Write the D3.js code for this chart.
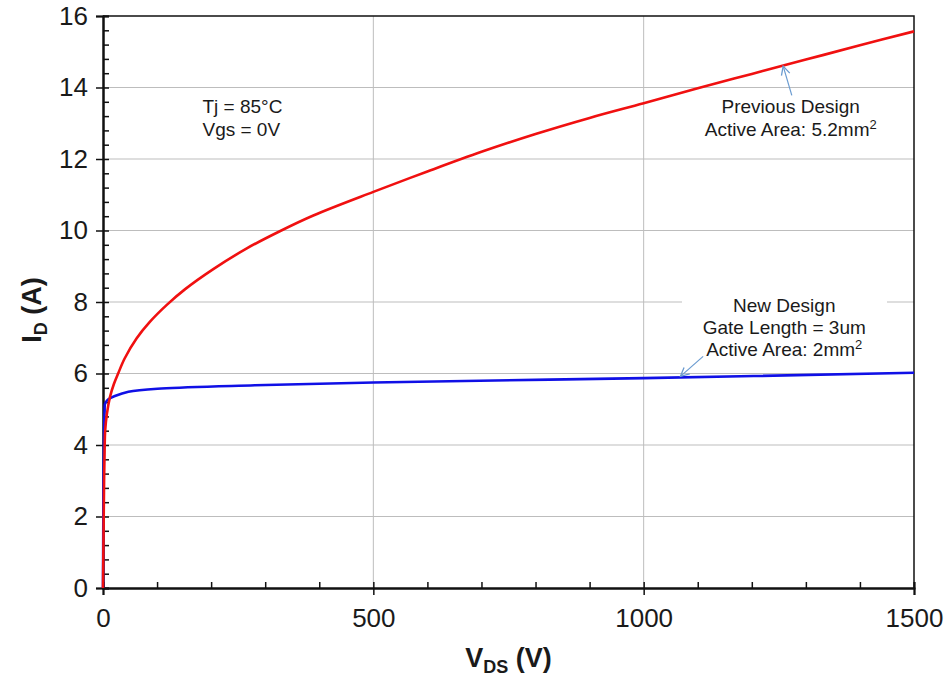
<!DOCTYPE html>
<html>
<head>
<meta charset="utf-8">
<script src="https://cdn.jsdelivr.net/npm/d3@7"></script>
<style>
  body { margin: 0; background: #fff; }
  text { font-family: Arial, "Liberation Sans", sans-serif; fill: #1a1a1a; }
</style>
</head>
<body>
<script>
const W = 949, H = 677;
const M = { left: 103, right: 35, top: 16, bottom: 89 };

// V_DS (V), I_D (A)
const prevV = [0, 1, 2, 3, 4, 7, 13, 20, 28, 40, 62, 87, 118, 152, 204, 266, 327, 389, 500, 600, 700, 800, 900, 1000, 1100, 1200, 1300, 1400, 1500];
const prevI = [0, 1.5, 3.0, 3.9, 4.4, 4.85, 5.35, 5.7, 6.0, 6.42, 6.98, 7.45, 7.92, 8.36, 8.92, 9.5, 9.98, 10.42, 11.08, 11.65, 12.2, 12.7, 13.15, 13.56, 13.98, 14.38, 14.78, 15.18, 15.57];
const newV = [0, 1, 2, 3, 4, 10, 22, 47, 108, 281, 500, 1000, 1500];
const newI = [0, 3.0, 4.4, 4.95, 5.17, 5.28, 5.37, 5.49, 5.58, 5.67, 5.75, 5.87, 6.02];

const xTicks = [0, 500, 1000, 1500];
const yTicks = [0, 2, 4, 6, 8, 10, 12, 14, 16];

const svg = d3.select('body').append('svg')
    .attr('width', W)
    .attr('height', H);

const x = d3.scaleLinear().domain([0, 1500]).range([M.left, W - M.right]);
const y = d3.scaleLinear().domain([0, 16]).range([H - M.bottom, M.top]);

// grid
svg.append('g').selectAll('line').data(yTicks.slice(1, -1)).join('line')
    .attr('x1', x(0)).attr('x2', x(1500))
    .attr('y1', d => y(d)).attr('y2', d => y(d))
    .attr('stroke', '#bdbdbd').attr('stroke-width', 1);
svg.append('g').selectAll('line').data(xTicks.slice(1, -1)).join('line')
    .attr('y1', y(0)).attr('y2', y(16))
    .attr('x1', d => x(d)).attr('x2', d => x(d))
    .attr('stroke', '#bdbdbd').attr('stroke-width', 1);

// frame top + right
svg.append('path')
    .attr('d', `M${x(0)},${y(16)}H${x(1500)}V${y(0)}`)
    .attr('fill', 'none').attr('stroke', '#111').attr('stroke-width', 1.5);

// axes
const xAxis = svg.append('g').attr('transform', `translate(0,${y(0)})`)
    .call(d3.axisBottom(x).tickValues(xTicks).tickSize(7).tickPadding(10).tickFormat(d3.format('d')));
const xMinor = svg.append('g').attr('transform', `translate(0,${y(0)})`)
    .call(d3.axisTop(x).tickValues(d3.range(0, 1501, 100)).tickSize(6).tickFormat(''));
const yAxis = svg.append('g').attr('transform', `translate(${x(0)},0)`)
    .call(d3.axisLeft(y).tickValues(yTicks).tickSize(7).tickPadding(8));
const yMinor = svg.append('g').attr('transform', `translate(${x(0)},0)`)
    .call(d3.axisRight(y).tickValues(d3.range(0, 16.01, 0.4)).tickSize(6).tickFormat(''));

[xAxis, xMinor, yAxis, yMinor].forEach(g => {
  g.selectAll('path').attr('stroke', '#111').attr('stroke-width', 2);
  g.selectAll('line').attr('stroke', '#111').attr('stroke-width', 1.5);
  g.selectAll('text').attr('font-size', 26).attr('fill', '#1a1a1a')
    .style('font-family', 'Arial, "Liberation Sans", sans-serif');
});
xAxis.selectAll('text').attr('dy', '0.85em');

// axis titles
const xt = svg.append('text')
    .attr('x', (x(0) + x(1500)) / 2).attr('y', 667)
    .attr('text-anchor', 'middle').attr('font-size', 27).attr('font-weight', 'bold');
xt.append('tspan').text('V');
xt.append('tspan').text('DS').attr('font-size', 18).attr('dy', 6);
xt.append('tspan').text(' (V)').attr('dy', -6);

const yt = svg.append('text')
    .attr('transform', `translate(41,${(y(0) + y(16)) / 2 + 8}) rotate(-90)`)
    .attr('text-anchor', 'middle').attr('font-size', 27).attr('font-weight', 'bold');
yt.append('tspan').text('I');
yt.append('tspan').text('D').attr('font-size', 18).attr('dy', 6);
yt.append('tspan').text(' (A)').attr('dy', -6);

// annotation box
svg.append('rect')
    .attr('x', 682).attr('y', 290).attr('width', 205).attr('height', 72)
    .attr('fill', '#fff');

const line = d3.line().x(d => x(d[0])).y(d => y(d[1])).curve(d3.curveCatmullRom.alpha(0.5));

svg.append('path')
    .datum(d3.zip(newV, newI))
    .attr('d', line)
    .attr('fill', 'none').attr('stroke', '#1010e6').attr('stroke-width', 2.6);
svg.append('path')
    .datum(d3.zip(prevV, prevI))
    .attr('d', line)
    .attr('fill', 'none').attr('stroke', '#f01010').attr('stroke-width', 2.6);

// text
const note = (lines, cx, y0, anchor, gap) => {
  lines.forEach((l, i) => {
    const t = svg.append('text')
      .attr('x', cx).attr('y', y0 + i * gap)
      .attr('text-anchor', anchor).attr('font-size', 19);
    if (l.endsWith('²')) {
      t.append('tspan').text(l.slice(0, -1));
      t.append('tspan').text('2').attr('font-size', 13).attr('dy', -7);
    } else {
      t.text(l);
    }
  });
};
note(['Tj = 85°C', 'Vgs = 0V'], x(184), y(13.3), 'start', 23);
note(['Previous Design', 'Active Area: 5.2mm²'], x(1272), y(13.28), 'middle', 23);
note(['New Design', 'Gate Length = 3um', 'Active Area: 2mm²'], x(1260), y(7.72), 'middle', 22);

// arrows
svg.append('defs').append('marker')
    .attr('id', 'arr').attr('viewBox', '0 0 10 10')
    .attr('refX', 9).attr('refY', 5)
    .attr('markerWidth', 9).attr('markerHeight', 9)
    .attr('orient', 'auto-start-reverse')
    .append('path').attr('d', 'M1,1L9,5L1,9')
    .attr('fill', 'none').attr('stroke', '#6a9bd0').attr('stroke-width', 1.2);

svg.append('line')
    .attr('x1', x(1274)).attr('y1', y(13.78))
    .attr('x2', x(1258)).attr('y2', y(14.6))
    .attr('stroke', '#6a9bd0').attr('stroke-width', 1.2)
    .attr('marker-end', 'url(#arr)');
svg.append('line')
    .attr('x1', x(1110)).attr('y1', y(6.48))
    .attr('x2', x(1068)).attr('y2', y(5.92))
    .attr('stroke', '#6a9bd0').attr('stroke-width', 1.2)
    .attr('marker-end', 'url(#arr)');
</script>
</body>
</html>
